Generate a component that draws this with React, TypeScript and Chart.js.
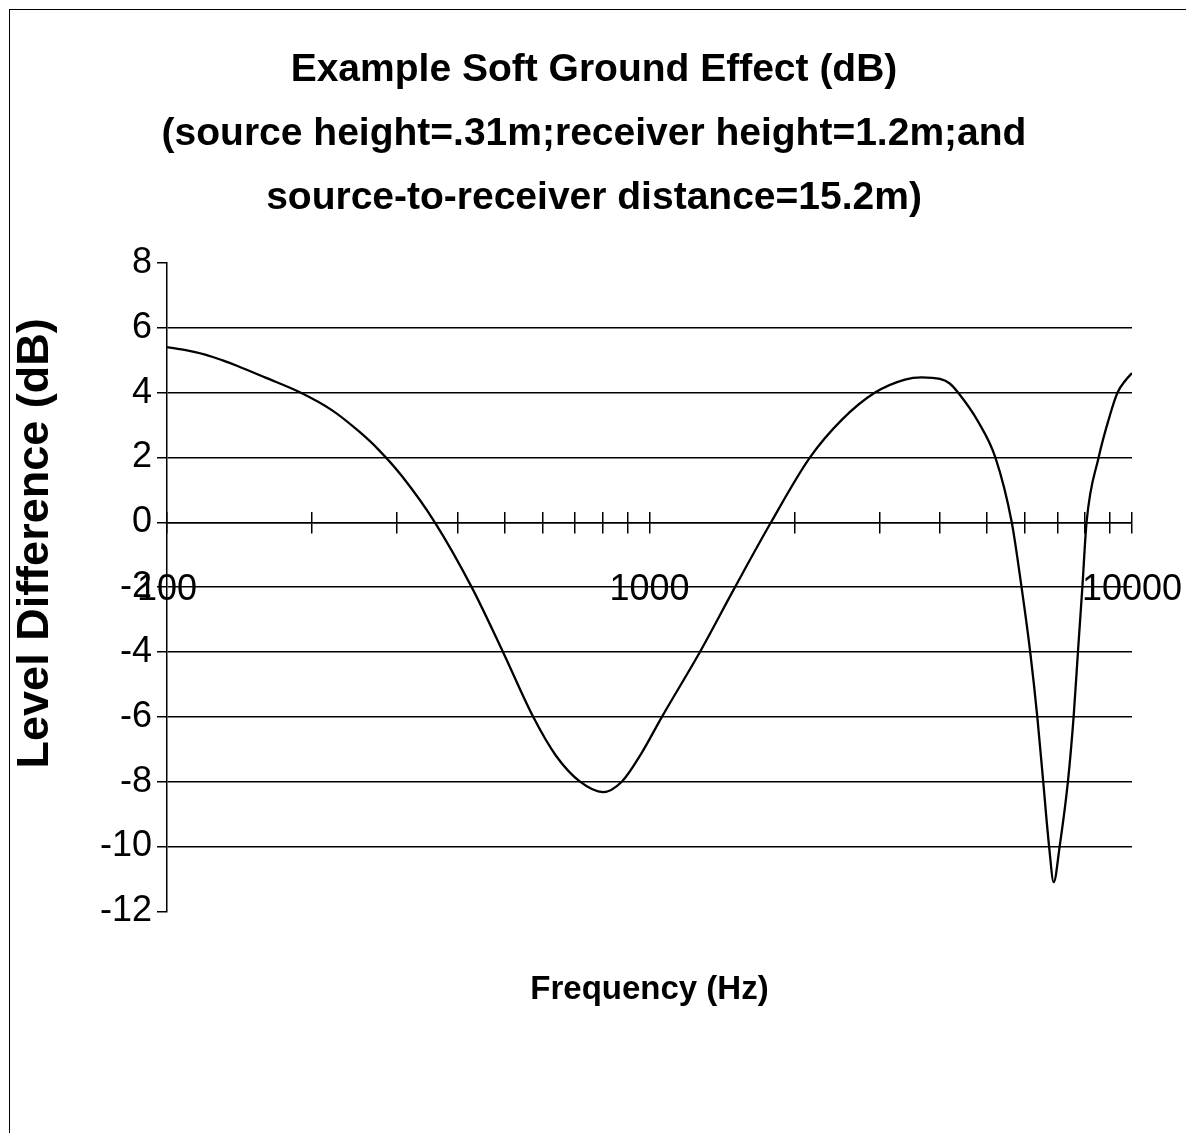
import React, { useEffect, useRef } from "react";
import { Chart, registerables } from "chart.js";

Chart.register(...registerables);

const chartTitle = [
  "Example Soft Ground Effect (dB)",
  "(source height=.31m;receiver height=1.2m;and",
  "source-to-receiver distance=15.2m)",
];
const xAxisTitle = "Frequency (Hz)";
const yAxisTitle = "Level Difference (dB)";

// frequency (Hz) and level difference (dB)
const frequencies = [
  100, 110, 120, 130, 140, 160, 189, 220, 250, 274, 307, 359, 428, 497, 574,
  640, 718, 801, 876, 960, 1061, 1272, 1504, 1786, 2151, 2500, 2934, 3384,
  3663, 4000, 4190, 4360, 4800, 5209, 5633, 5903, 6152, 6364, 6546, 6733, 6882,
  7080, 7365, 7568, 7726, 7891, 8050, 8528, 9000, 9334, 9700, 10000,
];
const levels = [
  5.4, 5.3, 5.17, 5.0, 4.82, 4.46, 4.0, 3.45, 2.8, 2.25, 1.42, 0.0, -2.0, -4.0,
  -6.0, -7.2, -8.0, -8.32, -8.0, -7.15, -6.0, -4.0, -2.0, 0.0, 2.0, 3.15, 4.0,
  4.4, 4.47, 4.42, 4.28, 4.0, 3.1, 2.0, 0.0, -2.0, -4.0, -6.0, -8.0, -10.0,
  -11.1, -10.0, -8.0, -6.0, -4.0, -2.0, 0.0, 2.0, 3.3, 4.0, 4.38, 4.6,
];

const xTickValues = [
  100, 200, 300, 400, 500, 600, 700, 800, 900, 1000, 2000, 3000, 4000, 5000,
  6000, 7000, 8000, 9000, 10000,
];
const xTickLabels = [100, 1000, 10000];
const yMin = -12;
const yMax = 8;
const yStep = 2;

const FONT = "'Liberation Sans', Arial, Helvetica, sans-serif";

export default function App() {
  const canvasRef = useRef<HTMLCanvasElement | null>(null);

  useEffect(() => {
    const canvas = canvasRef.current;
    if (!canvas) return;
    Chart.defaults.font.family = FONT;
    Chart.defaults.color = "#000";

    const chart = new Chart(canvas, {
      type: "line",
      data: {
        datasets: [
          {
            data: frequencies.map((f, i) => ({ x: f, y: levels[i] })),
            borderColor: "#000",
            borderWidth: 2.3,
            pointRadius: 0,
            fill: false,
            cubicInterpolationMode: "monotone",
            xAxisID: "x",
            yAxisID: "y",
          },
        ],
      },
      options: {
        responsive: false,
        animation: false,
        events: [],
        layout: { padding: { left: 9, right: 7, top: 9, bottom: 0 } },
        plugins: {
          legend: { display: false },
          tooltip: { enabled: false },
          title: {
            display: true,
            text: chartTitle,
            color: "#000",
            font: { family: FONT, size: 39, weight: "bold", lineHeight: 1.64 },
            padding: { top: 29, bottom: 33 },
          },
        },
        scales: {
          x: {
            type: "logarithmic",
            min: 100,
            max: 10000,
            position: { y: 0 },
            afterBuildTicks: (scale: any) => {
              scale.ticks = xTickValues.map((v) => ({ value: v }));
            },
            afterFit: (scale: any) => {
              scale.paddingLeft = 0;
              scale.paddingRight = 54;
            },
            grid: {
              drawOnChartArea: false,
              drawTicks: true,
              tickLength: 10,
              color: "#000",
              tickColor: "#000",
              lineWidth: 1.5,
            },
            border: { display: true, color: "#000", width: 1.5 },
            ticks: {
              autoSkip: false,
              maxRotation: 0,
              minRotation: 0,
              padding: 36,
              color: "#000",
              font: { family: FONT, size: 36 },
              callback: (v: any) =>
                xTickLabels.includes(Number(v)) ? String(v) : "",
            },
          },
          xUp: {
            type: "logarithmic",
            axis: "x",
            min: 100,
            max: 10000,
            position: { y: 0 },
            afterBuildTicks: (scale: any) => {
              scale.ticks = xTickValues.map((v) => ({ value: v }));
            },
            grid: {
              drawOnChartArea: false,
              drawTicks: true,
              tickLength: -10,
              color: "#000",
              tickColor: "#000",
              lineWidth: 1.5,
            },
            border: { display: false },
            ticks: { display: false, autoSkip: false },
          },
          x2: {
            type: "linear",
            axis: "x",
            position: "bottom",
            min: 0,
            max: 1,
            grid: { display: false, drawTicks: false },
            border: { display: false },
            ticks: { display: false },
            title: {
              display: true,
              text: xAxisTitle,
              color: "#000",
              font: { family: FONT, size: 33, weight: "bold" },
              padding: { top: 59, bottom: 123 },
            },
          },
          y: {
            type: "linear",
            position: "left",
            min: yMin,
            max: yMax,
            afterFit: (scale: any) => {
              scale.width = 158;
            },
            grid: {
              drawTicks: true,
              tickLength: 10,
              lineWidth: 1.5,
              color: (ctx: any) =>
                ctx.tick && (ctx.tick.value === yMax || ctx.tick.value === yMin)
                  ? "rgba(0,0,0,0)"
                  : "#000",
              tickColor: "#000",
            },
            border: { display: true, color: "#000", width: 1.5 },
            ticks: {
              stepSize: yStep,
              padding: 5,
              color: "#000",
              font: { family: FONT, size: 36 },
              callback: (v: any) => String(v),
            },
            title: {
              display: true,
              text: "       " + yAxisTitle,
              color: "#000",
              font: { family: FONT, size: 45, weight: "bold" },
              padding: { top: 0, bottom: 0 },
            },
          },
        },
      } as any,
    });

    return () => {
      chart.destroy();
    };
  }, []);

  return (
    <div
      style={{
        position: "absolute",
        left: 0,
        top: 0,
        width: 1186,
        height: 1133,
        background: "#fff",
        overflow: "hidden",
      }}
    >
      <div
        style={{
          position: "absolute",
          left: 9,
          top: 9,
          right: 0,
          bottom: 0,
          borderTop: "1px solid #000",
          borderLeft: "1px solid #000",
          boxSizing: "border-box",
        }}
      />
      <canvas
        ref={canvasRef}
        width={1186}
        height={1133}
        style={{ position: "absolute", left: 0, top: 0, width: 1186, height: 1133 }}
      />
    </div>
  );
}
